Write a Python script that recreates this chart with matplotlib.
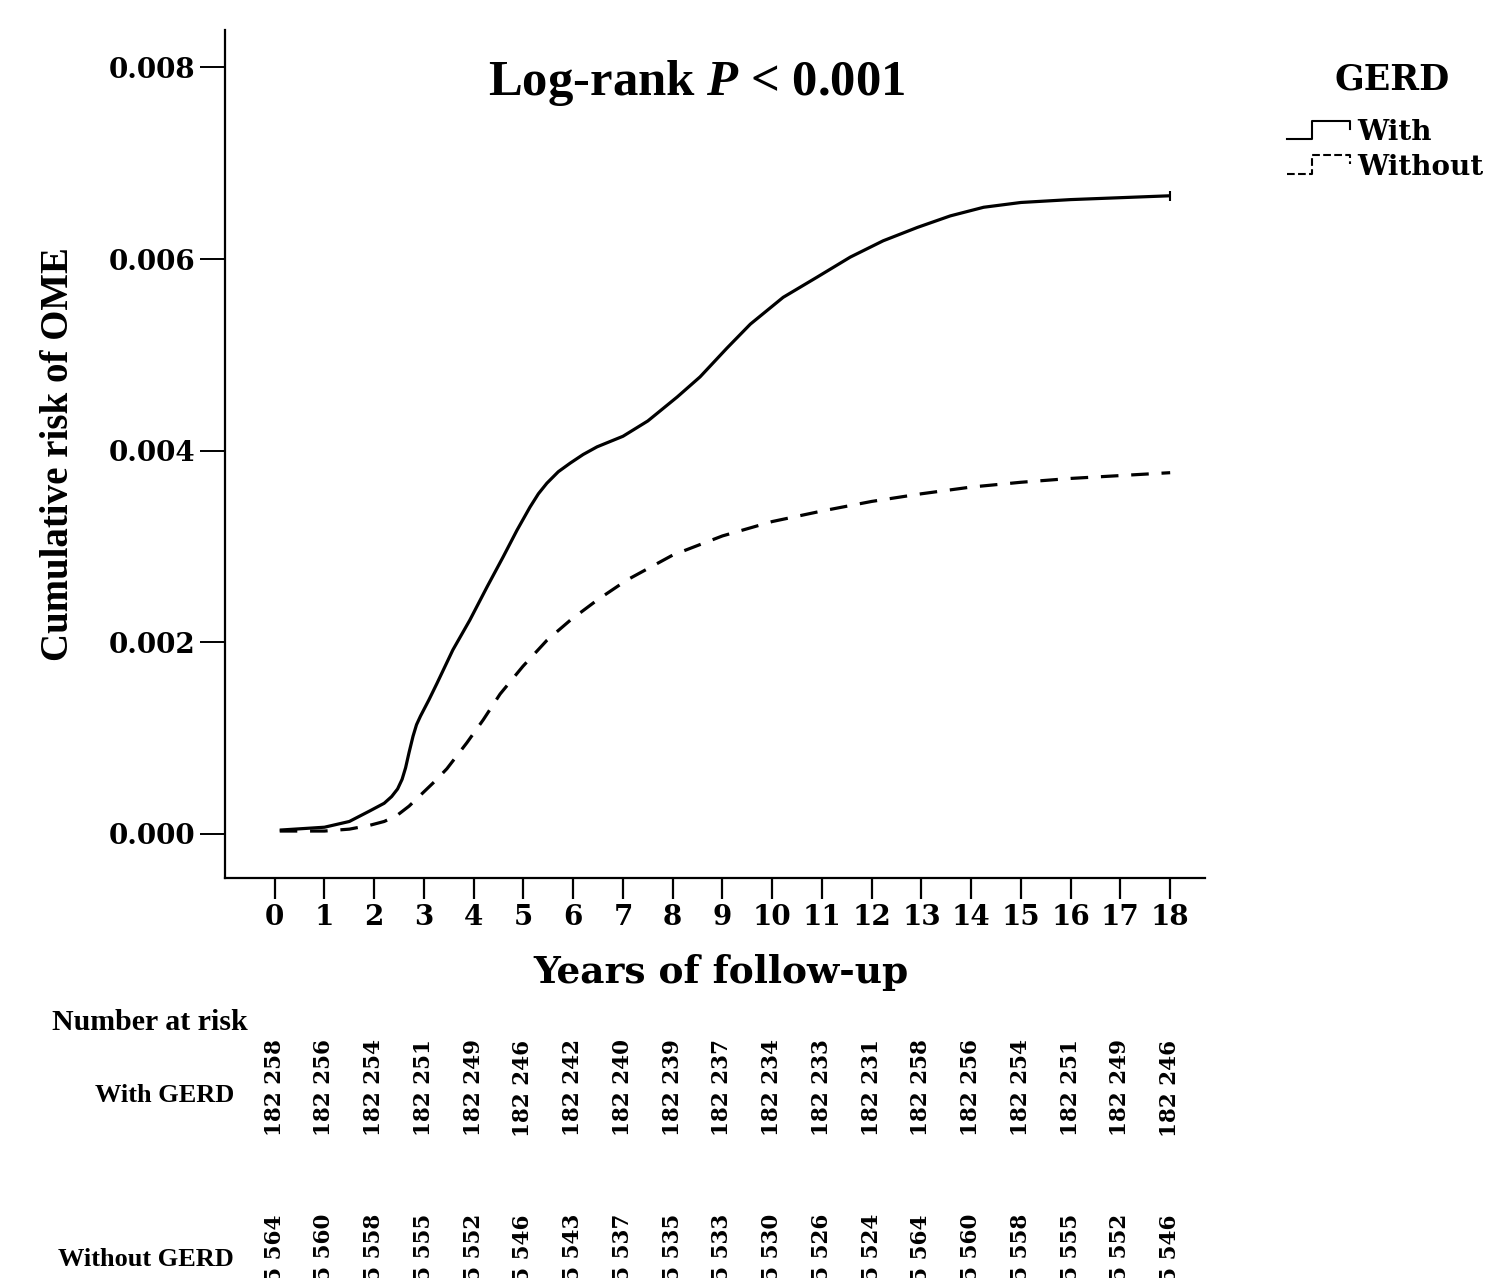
import numpy as np
import matplotlib
matplotlib.use("Agg")
import matplotlib.pyplot as plt
from matplotlib.lines import Line2D
from matplotlib.legend_handler import HandlerBase

plt.rcParams['mathtext.fontset'] = 'custom'
plt.rcParams['mathtext.rm'] = 'Liberation Serif:bold'
plt.rcParams['mathtext.it'] = 'Liberation Serif:bold:italic'

# cumulative risk
t_with = [0.1, 1, 1.5, 1.91, 2.2, 2.35, 2.47, 2.56, 2.63, 2.7, 2.78, 2.85, 2.93,
          3.1, 3.26, 3.58, 3.92, 4.27, 4.59, 4.87, 5.13, 5.3, 5.47, 5.7, 5.94,
          6.2, 6.48, 7.0, 7.5, 8.09, 8.55, 9.09, 9.56, 10.22, 10.9, 11.57, 12.23,
          12.92, 13.58, 14.25, 15.0, 16.0, 17.0, 18.0]
r_with = [0.00004, 0.00007, 0.00013, 0.00024, 0.00032, 0.00039, 0.00047, 0.00057,
          0.00069, 0.00085, 0.00102, 0.00114, 0.00123, 0.0014, 0.00157, 0.00192,
          0.00223, 0.00258, 0.00289, 0.00317, 0.00341, 0.00355, 0.00366, 0.00378,
          0.00387, 0.00396, 0.00404, 0.00415, 0.00431, 0.00456, 0.00477, 0.00507,
          0.00532, 0.0056, 0.00581, 0.00602, 0.00619, 0.00633, 0.00645, 0.00654,
          0.00659, 0.00662, 0.00664, 0.00666]

t_without = [0.1, 1, 1.5, 1.91, 2.2, 2.45, 2.7, 2.98, 3.22, 3.46, 3.86, 4.19, 4.53,
             4.99, 5.47, 5.94, 6.48, 7.08, 8, 9, 10, 11, 12, 13, 14, 15, 16, 17, 18]
r_without = [0.00003, 0.00003, 0.00005, 0.00009, 0.00013, 0.00019, 0.00029, 0.00043,
             0.00055, 0.00068, 0.00095, 0.00119, 0.00146, 0.00175, 0.00202, 0.00223,
             0.00244, 0.00265, 0.00291, 0.00311, 0.00326, 0.00337, 0.00347, 0.00355,
             0.00362, 0.00367, 0.00371, 0.00374, 0.00377]

years = list(range(19))
risk_with = ['182 258', '182 256', '182 254', '182 251', '182 249', '182 246',
             '182 242', '182 240', '182 239', '182 237', '182 234', '182 233',
             '182 231', '182 258', '182 256', '182 254', '182 251', '182 249', '182 246']
risk_without = ['1 825 564', '1 825 560', '1 825 558', '1 825 555', '1 825 552',
                '1 825 546', '1 825 543', '1 825 537', '1 825 535', '1 825 533',
                '1 825 530', '1 825 526', '1 825 524', '1 825 564', '1 825 560',
                '1 825 558', '1 825 555', '1 825 552', '1 825 546']

W, H = 1494, 1278
fig = plt.figure(figsize=(W / 100, H / 100), dpi=100)
ax = fig.add_axes([225 / W, 1 - 878 / H, 980 / W, 848 / H])

lw = 2.3
ax.plot(t_with, r_with, color='black', lw=lw, solid_capstyle='butt', solid_joinstyle='round')
ax.plot(t_with[-1:], r_with[-1:], color='black', marker='|', ms=7, mew=1.5)
ax.plot(t_without, r_without, color='black', lw=lw, ls=(0, (5.5, 4)), dash_capstyle='butt')

ax.set_xlim(-1.0, 18.7)
ax.set_ylim(-0.00046, 0.00839)
ax.set_xticks(years)
ax.set_yticks([0, 0.002, 0.004, 0.006, 0.008])
ax.set_yticklabels(['0.000', '0.002', '0.004', '0.006', '0.008'])
for s in ['top', 'right']:
    ax.spines[s].set_visible(False)
for s in ['left', 'bottom']:
    ax.spines[s].set_linewidth(1.6)
ax.tick_params(axis='y', length=18, width=1.4, pad=3)
ax.tick_params(axis='x', length=15, width=1.6, pad=4)
for lab in ax.get_xticklabels() + ax.get_yticklabels():
    lab.set_fontfamily('DejaVu Serif')
    lab.set_fontweight('bold')
    lab.set_fontsize(20)

ax.set_ylabel('Cumulative risk of OME', fontfamily='Liberation Serif',
              fontweight='bold', fontsize=28)
ax.yaxis.set_label_coords(-0.151, 0.5)
ax.set_xlabel('Years of follow-up', fontfamily='DejaVu Serif',
              fontweight='bold', fontsize=27)
ax.xaxis.set_label_coords(0.506, -0.09)

fig.text(697 / W, 1 - 83 / H, 'Log-rank $P$ < 0.001', fontfamily='Liberation Serif',
         fontweight='bold', fontsize=36.5, ha='center', va='center')


# step-shaped legend keys like SPSS
class StepHandler(HandlerBase):
    def create_artists(self, legend, orig_handle, xdescent, ydescent, width,
                       height, fontsize, trans):
        x0, w, h = -xdescent, width, height
        ys0 = -ydescent + 0.05 * h
        xs = [x0, x0 + 0.38 * w, x0 + 0.38 * w, x0 + 0.95 * w, x0 + 0.95 * w]
        ys = [ys0, ys0, ys0 + 0.95 * h, ys0 + 0.95 * h, ys0 + 0.5 * h]
        ln = Line2D(xs, ys, color='black', lw=1.5, ls=orig_handle.get_linestyle())
        ln.set_transform(trans)
        return [ln]


fig.text(1392 / W, 1 - 79 / H, 'GERD', fontfamily='DejaVu Serif',
         fontweight='bold', fontsize=25, ha='center', va='center')
h1 = Line2D([], [], color='black', ls='-')
h2 = Line2D([], [], color='black', ls=(0, (3, 3)))
leg = fig.legend([h1, h2], ['With', 'Without'], handler_map={Line2D: StepHandler()},
                 loc='upper left', bbox_to_anchor=(1287 / W, 1 - 119 / H),
                 frameon=False, handlelength=2.4, handletextpad=0.12,
                 labelspacing=0.28, borderpad=0, borderaxespad=0,
                 prop={'family': 'DejaVu Serif', 'weight': 'bold', 'size': 20})

# number at risk table
fig.text(52 / W, 1 - 1023 / H, 'Number at risk', fontfamily='Liberation Serif',
         fontweight='bold', fontsize=21.5, ha='left', va='center')
fig.text(234 / W, 1 - 1095 / H, 'With GERD', fontfamily='Liberation Serif',
         fontweight='bold', fontsize=19, ha='right', va='center')
fig.text(234 / W, 1 - 1260 / H, 'Without GERD', fontfamily='Liberation Serif',
         fontweight='bold', fontsize=19, ha='right', va='center')

for yr, a, b in zip(years, risk_with, risk_without):
    xf = ax.transData.transform((yr, 0))[0] / W
    fig.text(xf, 1 - 1088 / H, a, rotation=90, fontfamily='DejaVu Serif',
             fontweight='bold', fontsize=15.5, ha='center', va='center')
    fig.text(xf, 1 - 1214 / H, b, rotation=90, fontfamily='DejaVu Serif',
             fontweight='bold', fontsize=15.5, ha='center', va='top')

fig.savefig('out.png', dpi=100)
